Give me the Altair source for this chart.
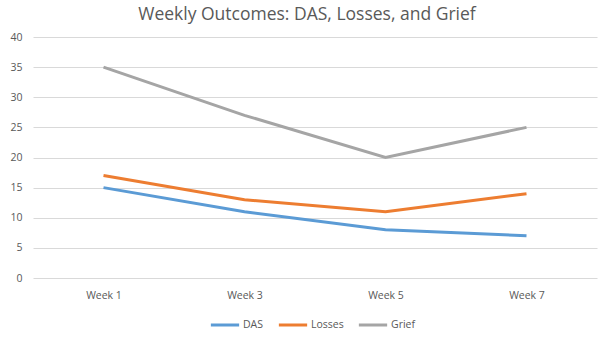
import altair as alt
import pandas as pd

weeks = ["Week 1", "Week 3", "Week 5", "Week 7"]
das = [15, 11, 8, 7]
losses = [17, 13, 11, 14]
grief = [35, 27, 20, 25]
series = ["DAS", "Losses", "Grief"]
colors = ["#5B9BD5", "#ED7D31", "#A5A5A5"]

rows = []
for name, vals in zip(series, [das, losses, grief]):
    for w, v in zip(weeks, vals):
        rows.append({"Week": w, "Series": name, "Value": v})
df = pd.DataFrame(rows)

FONT = "Open Sans"
TXT = "#595959"

chart = alt.Chart(df).mark_line(strokeWidth=3).encode(
    x=alt.X("Week:N", sort=weeks, title=None,
            scale=alt.Scale(paddingInner=0, paddingOuter=0.5),
            axis=alt.Axis(labelAngle=0, domain=False, ticks=False, grid=False,
                          labelPadding=12, labelFontSize=10.5, labelColor=TXT, labelFont=FONT)),
    y=alt.Y("Value:Q", title=None,
            scale=alt.Scale(domain=[0, 40], nice=False),
            axis=alt.Axis(values=list(range(0, 41, 5)), domain=False, ticks=False,
                          gridColor="#D9D9D9", gridWidth=1, labelPadding=11,
                          labelFontSize=10.5, labelColor=TXT, labelFont=FONT)),
    color=alt.Color("Series:N", sort=series,
                    scale=alt.Scale(domain=series, range=colors),
                    legend=alt.Legend(title=None, orient="none", direction="horizontal",
                                      legendX=176, legendY=272,
                                      symbolType="stroke", symbolSize=800, symbolStrokeWidth=3,
                                      labelFontSize=10.5, labelColor=TXT, labelFont=FONT,
                                      columnPadding=8, symbolOffset=0, labelOffset=2)),
).properties(
    width=564, height=241,
    background="white",
    title=alt.TitleParams("Weekly Outcomes: DAS, Losses, and Grief", fontSize=17.5,
                          font=FONT, fontWeight="normal", color=TXT, anchor="middle",
                          offset=9, dx=-8),
    autosize=alt.AutoSizeParams(type="none"),
    padding={"left": 33, "top": 37, "right": 3, "bottom": 60},
).configure_view(stroke=None, strokeWidth=0).configure_axisX(grid=False, domain=False)

chart.save("out.html", embed_options={"renderer": "svg", "actions": False})
